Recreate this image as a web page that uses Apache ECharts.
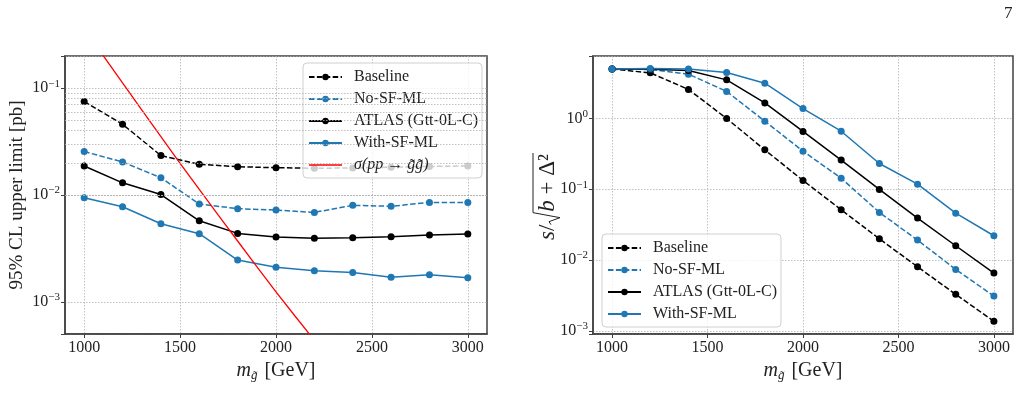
<!DOCTYPE html>
<html lang="en">
<head>
<meta charset="UTF-8" />
<title>gluino limits</title>
<script src="https://cdn.jsdelivr.net/npm/echarts@6/dist/echarts.min.js"></script>
<style>
  body { margin: 0; background: #fff; }
  #main { width: 1024px; height: 403px; }
</style>
</head>
<body>
<div id="main"></div>
<script>
// gluino masses (GeV)
const masses = [1000, 1200, 1400, 1600, 1800, 2000, 2200, 2400, 2600, 2800, 3000];

// left panel: 95% CL upper limit [pb]
const limBaseline = [0.075, 0.0459, 0.0234, 0.0194, 0.0184, 0.0180, 0.0178, 0.0179, 0.0182, 0.0185, 0.0187];
const limNoSF     = [0.0255, 0.0204, 0.0145, 0.00824, 0.00745, 0.00723, 0.00687, 0.0080, 0.00784, 0.00853, 0.00853];
const limAtlas    = [0.0187, 0.0130, 0.0101, 0.00574, 0.00437, 0.00404, 0.00393, 0.00398, 0.00406, 0.00422, 0.00431];
const limWithSF   = [0.00944, 0.00777, 0.00538, 0.00434, 0.00246, 0.00211, 0.00195, 0.00188, 0.00170, 0.00179, 0.00168];

// gluino pair cross-section (red curve)
const xsecMass  = [1000, 1100, 1200, 1300, 1400, 1500, 1600, 1700, 1800, 1900, 2000, 2100, 2200, 2300];
const xsecValue = [0.366, 0.201, 0.112, 0.0625, 0.0351, 0.0198, 0.01127, 0.00644, 0.00371, 0.00214, 0.00124, 0.000733, 0.000437, 0.000263];

// right panel: s / sqrt(b + Delta^2)
const sigBaseline = [5.0, 4.41, 2.57, 1.0, 0.36, 0.133, 0.0512, 0.0199, 0.00802, 0.00327, 0.00136];
const sigNoSF     = [5.0, 4.92, 4.22, 2.41, 0.916, 0.345, 0.143, 0.047, 0.0191, 0.00736, 0.00309];
const sigAtlas    = [5.0, 4.95, 4.76, 3.51, 1.66, 0.655, 0.258, 0.0993, 0.0391, 0.0159, 0.00653];
const sigWithSF   = [5.0, 5.06, 4.98, 4.47, 3.15, 1.38, 0.66, 0.231, 0.118, 0.0459, 0.022];

const xTicks = [1000, 1500, 2000, 2500, 3000];
const minorMant = [2, 3, 4, 5, 6, 7, 8, 9];
const minorDecades = [1e-4, 1e-3, 1e-2, 1e-1];

const FONT = '"Liberation Serif", "DejaVu Serif", serif';
const BLUE = '#1f77b4';
const GRIDC = '#b0b0b0';
const SPINE = '#404040';

const pairs = (xs, ys) => xs.map((x, i) => [x, ys[i]]);

function powLabel(v) {
  const e = Math.log10(v);
  const r = Math.round(e);
  if (Math.abs(e - r) > 1e-4) return '';
  return '10{sup|' + (r < 0 ? '\u2212' + (-r) : r) + '}';
}

function lineSeries(name, ys, color, dashed, gi) {
  return {
    name: name, type: 'line', xAxisIndex: gi, yAxisIndex: gi,
    data: pairs(masses, ys),
    symbol: 'circle', symbolSize: 7,
    itemStyle: { color: color },
    lineStyle: { color: color, width: 1.5, type: dashed ? [5.5, 2.4] : 'solid' },
    z: 3
  };
}

function xAxis(gi) {
  return {
    type: 'value', gridIndex: gi, min: 900, max: 3100,
    axisLine: { show: true, onZero: false, lineStyle: { color: SPINE, width: 1.5 } },
    axisTick: { show: true, customValues: xTicks, length: 4, lineStyle: { color: SPINE } },
    axisLabel: { customValues: xTicks, formatter: v => String(v), fontFamily: FONT, fontSize: 16, color: '#222', margin: 6 },
    splitLine: { show: true, lineStyle: { type: [1.5, 1.5], color: GRIDC, width: 0.8 } },
    name: '{i|m}{s|g\u0303} [GeV]', nameLocation: 'middle', nameGap: 24,
    nameTextStyle: {
      fontFamily: FONT, fontSize: 20, color: '#222',
      rich: {
        i: { fontFamily: FONT, fontSize: 20, fontStyle: 'italic', color: '#222' },
        s: { fontFamily: FONT, fontSize: 13, fontStyle: 'italic', color: '#222', padding: [10, 2, 0, 0] }
      }
    }
  };
}

function yAxis(gi, min, max) {
  return {
    type: 'log', logBase: 10, gridIndex: gi, min: min, max: max,
    axisLine: { show: true, lineStyle: { color: SPINE, width: 1.5 } },
    axisTick: { show: true, length: 4, lineStyle: { color: SPINE } },
    axisLabel: {
      formatter: powLabel, fontFamily: FONT, fontSize: 16, color: '#222', margin: 5,
      rich: { sup: { fontFamily: FONT, fontSize: 11, color: '#222', padding: [0, 0, 9, 0] } }
    },
    splitLine: { show: true, lineStyle: { type: [1.5, 1.5], color: GRIDC, width: 0.8 } }
  };
}

const minorLines = [];
minorDecades.forEach(d => minorMant.forEach(m => {
  const v = m * d;
  if (v > 5e-4 && v < 0.2) minorLines.push({ yAxis: v });
}));

// right y label: s / sqrt(b + Delta^2), laid out by hand
const FS = 23;
const ctx = document.createElement('canvas').getContext('2d');
ctx.font = 'italic ' + FS + 'px "Liberation Serif"';
const wS = ctx.measureText('s').width;
const wB = ctx.measureText('b').width;
ctx.font = FS + 'px "Liberation Serif"';
const wSlash = ctx.measureText('/').width;
const wRest = ctx.measureText(' + \u0394\u00B2').width;
const wRadical = 13;
const wAll = wS + wSlash + wRadical + wB + wRest;
const x0 = -wAll / 2;
const xr = x0 + wS + wSlash;

const legendCommon = {
  orient: 'vertical', itemWidth: 33, itemHeight: 8, itemGap: 6,
  backgroundColor: 'rgba(255,255,255,0.8)', borderColor: '#d0d0d0', borderWidth: 1, borderRadius: 4,
  padding: [6, 4, 5, 5],
  textStyle: { fontFamily: FONT, fontSize: 16, color: '#222', padding: [0, 0, 0, 7] }
};

const sigmaName = '\u03C3(pp \u2192 g\u0303g\u0303)';

const option = {
  animation: false,
  backgroundColor: '#fff',
  grid: [
    { left: 65, top: 56, width: 422, height: 278, show: true, borderColor: SPINE, borderWidth: 1.5 },
    { left: 593, top: 56, width: 420, height: 278, show: true, borderColor: SPINE, borderWidth: 1.5 }
  ],
  xAxis: [xAxis(0), xAxis(1)],
  yAxis: [
    Object.assign(yAxis(0, 5e-4, 0.2), {
      name: '95% CL upper limit [pb]', nameLocation: 'middle', nameGap: 38,
      nameTextStyle: { fontFamily: FONT, fontSize: 19, color: '#222' }
    }),
    yAxis(1, 9e-4, 7.63)
  ],
  legend: [
    Object.assign({}, legendCommon, {
      left: 303, top: 63,
      data: ['Baseline', 'No-SF-ML', 'ATLAS (Gtt-0L-C)', 'With-SF-ML',
        { name: sigmaName, icon: 'path://M0,0 L33,0 L33,1.4 L0,1.4 Z', textStyle: { fontStyle: 'italic' } }]
    }),
    Object.assign({}, legendCommon, {
      left: 602, top: 234,
      data: ['Baseline', 'No-SF-ML', 'ATLAS (Gtt-0L-C)', 'With-SF-ML']
    })
  ],
  graphic: [
    { type: 'text', left: 1004, top: 5, style: { text: '7', fontFamily: FONT, fontSize: 17, fill: '#222' } },
    {
      type: 'group', x: 548, y: 197, rotation: Math.PI / 2,
      children: [
        { type: 'text', x: x0, y: 0,
          style: { text: '{i|s}/', fontFamily: FONT, fontSize: FS, fill: '#222', verticalAlign: 'middle', align: 'left',
            rich: { i: { fontFamily: FONT, fontSize: FS, fontStyle: 'italic', fill: '#222' } } } },
        { type: 'polyline',
          shape: { points: [[xr, 3], [xr + 3, 1], [xr + 7, 12], [xr + 12, -15], [x0 + wAll + 1, -15]] },
          style: { stroke: '#222', lineWidth: 1, fill: null } },
        { type: 'text', x: xr + wRadical, y: 0,
          style: { text: '{i|b} + \u0394\u00B2', fontFamily: FONT, fontSize: FS, fill: '#222', verticalAlign: 'middle', align: 'left',
            rich: { i: { fontFamily: FONT, fontSize: FS, fontStyle: 'italic', fill: '#222' } } } }
      ]
    }
  ],
  series: [
    {
      type: 'line', xAxisIndex: 0, yAxisIndex: 0, data: [], z: 1, silent: true,
      markLine: {
        silent: true, symbol: 'none', label: { show: false },
        lineStyle: { type: [1.5, 1.5], color: GRIDC, width: 0.8 },
        data: minorLines
      }
    },
    lineSeries('Baseline', limBaseline, '#000', true, 0),
    lineSeries('No-SF-ML', limNoSF, BLUE, true, 0),
    lineSeries('ATLAS (Gtt-0L-C)', limAtlas, '#000', false, 0),
    lineSeries('With-SF-ML', limWithSF, BLUE, false, 0),
    {
      name: sigmaName, type: 'line', xAxisIndex: 0, yAxisIndex: 0,
      data: pairs(xsecMass, xsecValue), symbol: 'none', clip: true,
      itemStyle: { color: '#ff0000' },
      lineStyle: { color: '#ff0000', width: 1.3 }, z: 3
    },
    lineSeries('Baseline', sigBaseline, '#000', true, 1),
    lineSeries('No-SF-ML', sigNoSF, BLUE, true, 1),
    lineSeries('ATLAS (Gtt-0L-C)', sigAtlas, '#000', false, 1),
    lineSeries('With-SF-ML', sigWithSF, BLUE, false, 1)
  ]
};

const chart = echarts.init(document.getElementById('main'));
chart.setOption(option);
</script>
</body>
</html>
